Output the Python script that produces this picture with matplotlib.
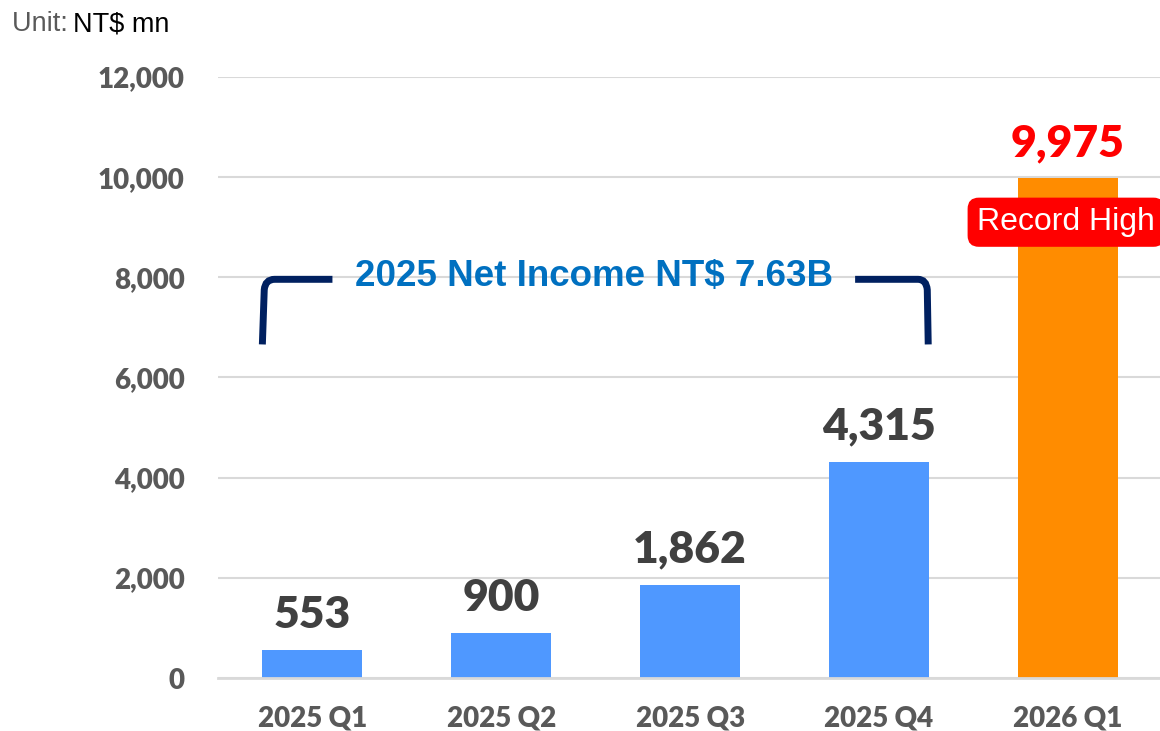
import matplotlib
matplotlib.use("Agg")
import matplotlib.pyplot as plt
from matplotlib.path import Path
from matplotlib.patches import PathPatch

quarters = ["2025 Q1", "2025 Q2", "2025 Q3", "2025 Q4", "2026 Q1"]
net_income = [553, 900, 1862, 4315, 9975]
bar_colors = ["#4F98FF", "#4F98FF", "#4F98FF", "#4F98FF", "#FF8C00"]
label_colors = ["#404040", "#404040", "#404040", "#404040", "#FF0000"]
y_ticks = [0, 2000, 4000, 6000, 8000, 10000, 12000]

num_font = "Lato"
num_weight = "heavy"

fig = plt.figure(figsize=(11.6, 7.31), dpi=100)
ax = fig.add_axes([0.1879, 0.0725, 0.8121, 0.8222])

x = range(len(quarters))
ax.bar(x, net_income, width=0.53, color=bar_colors, zorder=2)

ax.set_xlim(-0.5, 4.487)
ax.set_ylim(0, 12000)
ax.set_yticks(y_ticks)
ax.set_yticklabels([f"{v:,}" for v in y_ticks], fontsize=20, fontweight=num_weight,
                   color="#595959", family=num_font)
ax.set_xticks(list(x))
ax.set_xticklabels(quarters, fontsize=20, fontweight=num_weight, color="#595959",
                   family=num_font)
ax.tick_params(axis="both", length=0)
ax.tick_params(axis="y", pad=24)
ax.tick_params(axis="x", pad=20)
ax.grid(axis="y", color="#D9D9D9", linewidth=1.5, zorder=0)
for s in ["top", "right", "left"]:
    ax.spines[s].set_visible(False)
ax.spines["bottom"].set_color("#D9D9D9")
ax.spines["bottom"].set_linewidth(2)

for i, v in enumerate(net_income):
    ax.annotate(f"{v:,}", (i, v), xytext=(0, 16), textcoords="offset points",
                ha="center", va="baseline", fontsize=32, fontweight=num_weight,
                color=label_colors[i], family=num_font)

# bracket over 2025
navy = "#002060"
left = Path([(-0.265, 6660), (-0.255, 7750), (-0.25, 7960), (-0.20, 7960), (0.106, 7960)],
            [Path.MOVETO, Path.LINETO, Path.CURVE3, Path.CURVE3, Path.LINETO])
right = Path([(2.873, 7960), (3.206, 7960), (3.25, 7960), (3.255, 7750), (3.26, 6660)],
             [Path.MOVETO, Path.LINETO, Path.CURVE3, Path.CURVE3, Path.LINETO])
for p in (left, right):
    ax.add_patch(PathPatch(p, fill=False, edgecolor=navy, linewidth=5,
                           capstyle="butt", zorder=3))
ax.text(1.489, 8020, "2025 Net Income NT$ 7.63B", ha="center", va="center",
        fontsize=26.5, fontweight="bold", color="#0070C0",
        family="Liberation Sans", zorder=4)

ax.text(3.99, 9100, "Record High", ha="center", va="center", fontsize=23,
        color="white", family="Liberation Sans", zorder=5, clip_on=False,
        bbox=dict(boxstyle="round,pad=0.3,rounding_size=0.35", fc="#FF0000",
                  ec="none"))

fig.text(12 / 1160, 1 - 24 / 731, "Unit: ", fontsize=19.5, color="#595959",
         family="Liberation Sans", va="center", ha="left")
fig.text(73 / 1160, 1 - 24 / 731, "NT$ mn", fontsize=19.5, color="black",
         family="Liberation Sans", va="center", ha="left")

fig.savefig("out.png", dpi=100)
